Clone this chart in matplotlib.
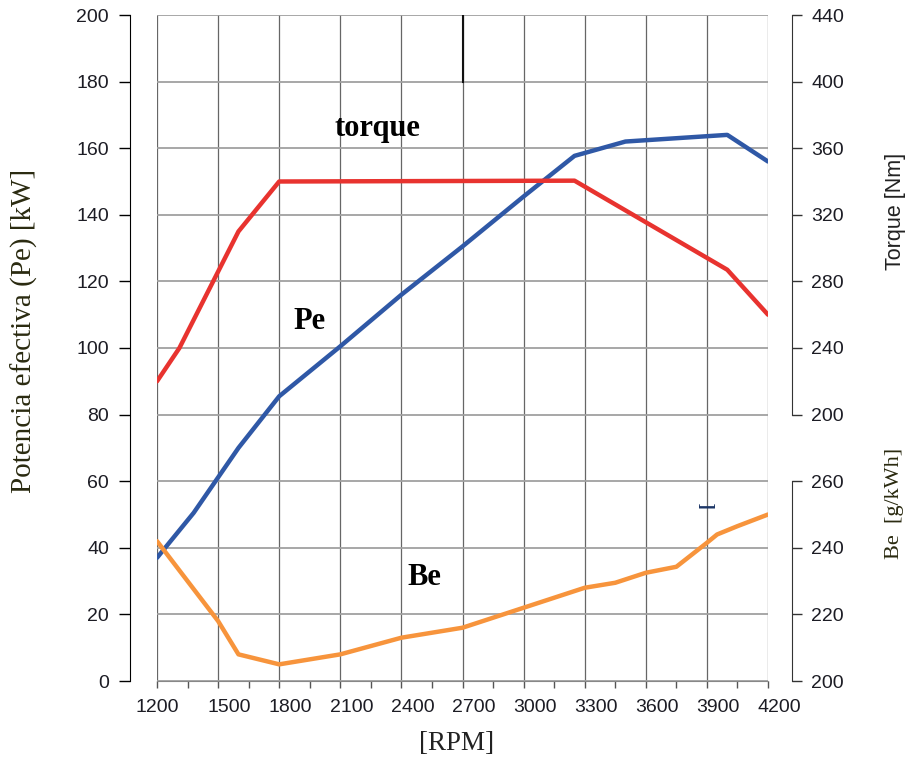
import matplotlib
matplotlib.use("Agg")
import matplotlib.pyplot as plt
from matplotlib.transforms import ScaledTranslation

rpm_pe = [1200, 1380, 1600, 1800, 2100, 2400, 2700, 3000, 3250, 3500, 4000, 4200]
pe_kw = [37, 50.5, 70, 85.5, 100.5, 116, 130.5, 145.5, 157.7, 162, 164, 156]

rpm_torque = [1200, 1310, 1600, 1800, 3250, 4000, 4200]
torque_nm = [220, 240, 310, 340, 340.5, 287, 260]

rpm_be = [1200, 1500, 1600, 1800, 2100, 2400, 2700, 3000, 3300, 3450, 3600, 3750, 3900, 3950, 4050, 4200]
be_gkwh = [242, 218, 208, 205, 208, 213, 216, 222, 228, 229.5, 232.5, 234.3, 241.5, 244, 246.5, 250]

xticks = list(range(1200, 4201, 300))
pe_ticks = list(range(0, 201, 20))
torque_ticks = list(range(200, 441, 40))
be_ticks = [200, 220, 240, 260]

rojo = '#e8332f'
azul = '#2f58a6'
naranja = '#f7943c'
tick_col = '#1c1c24'
sans = 'Liberation Sans'
serif = 'Liberation Serif'

fig = plt.figure(figsize=(9.09, 7.6), dpi=100)
ax = fig.add_axes([157/909, 1 - 681/760, (768-157)/909, (681-15)/760])

ax.set_xlim(1200, 4200)
ax.set_ylim(0, 200)
ax.set_xticks(xticks)
ax.set_xticks(list(range(1350, 4200, 300)), minor=True)
ax.set_yticks(pe_ticks)

# rejilla
for x in xticks:
    ax.axvline(x, color='#666666', lw=0.9, zorder=1)
for y in pe_ticks:
    ax.axhline(y, color='#a0a0a0', lw=1.3, zorder=1)
ax.plot([2700, 2700], [180, 200], color='#111111', lw=1.5, zorder=2)

ax.plot(rpm_pe, pe_kw, color=azul, lw=3.2, solid_capstyle='round', zorder=3)

ax.spines['top'].set_visible(False)
ax.spines['right'].set_visible(False)
ax.spines['left'].set_position(('outward', 19.5))
ax.spines['left'].set_color('black')
ax.spines['bottom'].set_color('#888888')
ax.spines['bottom'].set_linewidth(0.8)

ax.tick_params(axis='y', direction='out', length=8, width=1, pad=7,
               labelsize=14, labelcolor=tick_col)
ax.tick_params(axis='x', which='both', direction='out', length=5, width=1,
               color='#555555', pad=8, labelsize=14, labelcolor=tick_col)
for lab in ax.get_xticklabels() + ax.get_yticklabels():
    lab.set_fontfamily(sans)
# las etiquetas del eje x estan algo corridas a la derecha
for lab in ax.get_xticklabels()[1:]:
    lab.set_transform(lab.get_transform() + ScaledTranslation(0.11, 0, fig.dpi_scale_trans))

# eje de torque
ax2 = ax.twinx()
ax2.set_ylim(40, 440)
ax2.set_yticks(torque_ticks)
ax2.plot(rpm_torque, torque_nm, color=rojo, lw=3.2, solid_capstyle='round', zorder=3)

# eje de consumo especifico
ax3 = ax.twinx()
ax3.set_ylim(200, 400)
ax3.set_yticks(be_ticks)
ax3.plot(rpm_be, be_gkwh, color=naranja, lw=3.2, solid_capstyle='round', zorder=3)

for a, bounds in [(ax2, (200, 440)), (ax3, (200, 260))]:
    for s in ['left', 'top', 'bottom']:
        a.spines[s].set_visible(False)
    a.spines['right'].set_position(('outward', 17.3))
    a.spines['right'].set_bounds(*bounds)
    a.spines['right'].set_color('#333333')
    a.tick_params(axis='y', direction='out', length=7, width=1, pad=7,
                  labelsize=14, labelcolor=tick_col, color='#333333')
    for lab in a.get_yticklabels():
        lab.set_fontfamily(sans)

# textos
ax.text(2280, 166, 'torque', family=serif, weight='bold', fontsize=22,
        ha='center', va='center', color='black', zorder=5)
ax.text(1951, 108, 'Pe', family=serif, weight='bold', fontsize=22,
        ha='center', va='center', color='black', zorder=5)
ax.text(2511, 31, 'Be', family=serif, weight='bold', fontsize=22,
        ha='center', va='center', color='black', zorder=5)
ax.text(3900, 53, '[', family=serif, weight='bold', fontsize=14, rotation=90,
        ha='center', va='center', color='#1b3566', zorder=5)

fig.text(24/909, 1 - 331/760, 'Potencia efectiva (Pe) [kW]', family=serif,
         fontsize=21, rotation=90, ha='center', va='center', color='#2a2a10')
fig.text(896/909, 1 - 211/760, 'Torque [Nm]', family=sans, fontsize=15.5,
         rotation=90, ha='center', va='center', color='#222222')
fig.text(895/909, 1 - 503/760, 'Be  [g/kWh]', family=serif, fontsize=16,
         rotation=90, ha='center', va='center', color='#2a2a10')
fig.text(457/909, 1 - 743/760, '[RPM]', family=serif, fontsize=19.5,
         ha='center', va='center', color='#222222')

fig.savefig('out.png', dpi=100)
